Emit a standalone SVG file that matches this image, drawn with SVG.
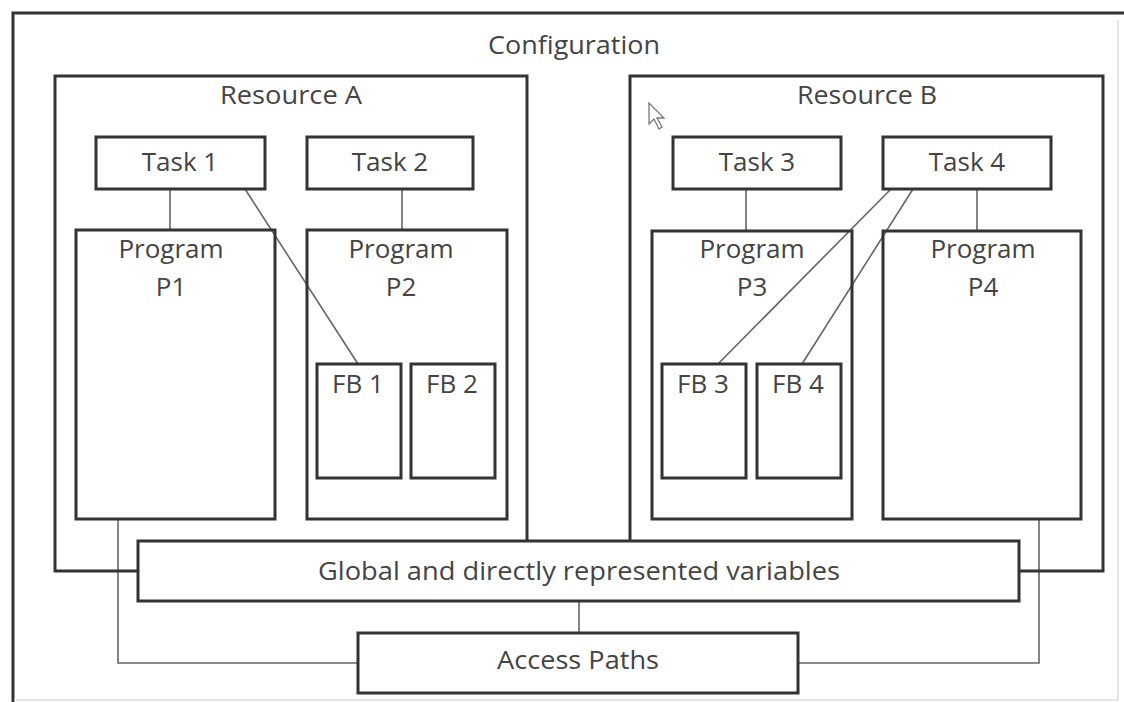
<svg xmlns="http://www.w3.org/2000/svg" width="1124" height="702" viewBox="0 0 1124 702">
<style>
.box{fill:none;stroke:#333;stroke-width:3}
.fbox{fill:#fff;stroke:#333;stroke-width:3}
.con{fill:none;stroke:#666;stroke-width:1.6}
.t{font-family:"Open Sans","Noto Sans",sans-serif;font-size:26px;fill:#444;text-anchor:middle}
</style>
<rect width="1124" height="702" fill="#fff"/>
<g id="configuration">
<path d="M13,702 V13 H1124" class="box"/>
<path d="M1118,20 V700 H14" fill="none" stroke="#ddd" stroke-width="1.5"/>
<text class="t" x="574" y="54" textLength="172" lengthAdjust="spacingAndGlyphs">Configuration</text>
</g>
<g id="connectors">
<line class="con" x1="170" y1="189" x2="170" y2="230"/>
<line class="con" x1="402" y1="189" x2="402" y2="230"/>
<line class="con" x1="746" y1="189" x2="746" y2="231"/>
<line class="con" x1="977" y1="189" x2="977" y2="231"/>
<line class="con" x1="245" y1="189" x2="358" y2="364"/>
<line class="con" x1="891" y1="189" x2="718" y2="364"/>
<line class="con" x1="913" y1="189" x2="802" y2="364"/>
<path class="con" d="M118,519 V663 H358"/>
<path class="con" d="M1039,519 V663 H798"/>
<line class="con" x1="579" y1="601" x2="579" y2="633"/>
</g>
<g id="resource-a">
<path class="box" d="M527,541 V76 H55 V571 H138"/>
<text class="t" x="291" y="104" textLength="142" lengthAdjust="spacingAndGlyphs">Resource A</text>
</g>
<g id="resource-b">
<path class="box" d="M630,541 V76 H1103 V571 H1019"/>
<text class="t" x="867" y="104" textLength="140" lengthAdjust="spacingAndGlyphs">Resource B</text>
</g>
<g id="task1"><rect class="fbox" x="96" y="137" width="169" height="52"/><text class="t" x="180" y="171">Task 1</text></g>
<g id="task2"><rect class="fbox" x="307" y="137" width="166" height="52"/><text class="t" x="390" y="171">Task 2</text></g>
<g id="task3"><rect class="fbox" x="673" y="137" width="168" height="52"/><text class="t" x="757" y="171">Task 3</text></g>
<g id="task4"><rect class="fbox" x="883" y="137" width="168" height="52"/><text class="t" x="967" y="171">Task 4</text></g>
<g id="program-p1"><rect class="box" x="76" y="230" width="199" height="289"/><text class="t" x="171" y="258">Program</text><text class="t" x="171" y="296">P1</text></g>
<g id="program-p2"><rect class="box" x="307" y="230" width="200" height="289"/><text class="t" x="401" y="258">Program</text><text class="t" x="401" y="296">P2</text></g>
<g id="program-p3"><rect class="box" x="652" y="231" width="200" height="288"/><text class="t" x="752" y="258">Program</text><text class="t" x="752" y="296">P3</text></g>
<g id="program-p4"><rect class="box" x="883" y="231" width="198" height="288"/><text class="t" x="983" y="258">Program</text><text class="t" x="983" y="296">P4</text></g>
<g id="fb1"><rect class="box" x="317" y="364" width="84" height="114"/><text class="t" x="358" y="393">FB 1</text></g>
<g id="fb2"><rect class="box" x="411" y="364" width="84" height="114"/><text class="t" x="452" y="393">FB 2</text></g>
<g id="fb3"><rect class="box" x="662" y="364" width="84" height="114"/><text class="t" x="703" y="393">FB 3</text></g>
<g id="fb4"><rect class="box" x="757" y="364" width="84" height="114"/><text class="t" x="798" y="393">FB 4</text></g>
<g id="global-vars"><rect class="fbox" x="138" y="541" width="881" height="60"/><text class="t" x="579" y="580" textLength="522" lengthAdjust="spacingAndGlyphs">Global and directly represented variables</text></g>
<g id="access-paths"><rect class="fbox" x="358" y="633" width="440" height="60"/><text class="t" x="578" y="669" textLength="162" lengthAdjust="spacingAndGlyphs">Access Paths</text></g>
<path d="M649,103 V124 L654,119 L659,129 L662,127 L657,118 L664,118 Z" fill="#fff" stroke="#777" stroke-width="1.3"/>
</svg>
